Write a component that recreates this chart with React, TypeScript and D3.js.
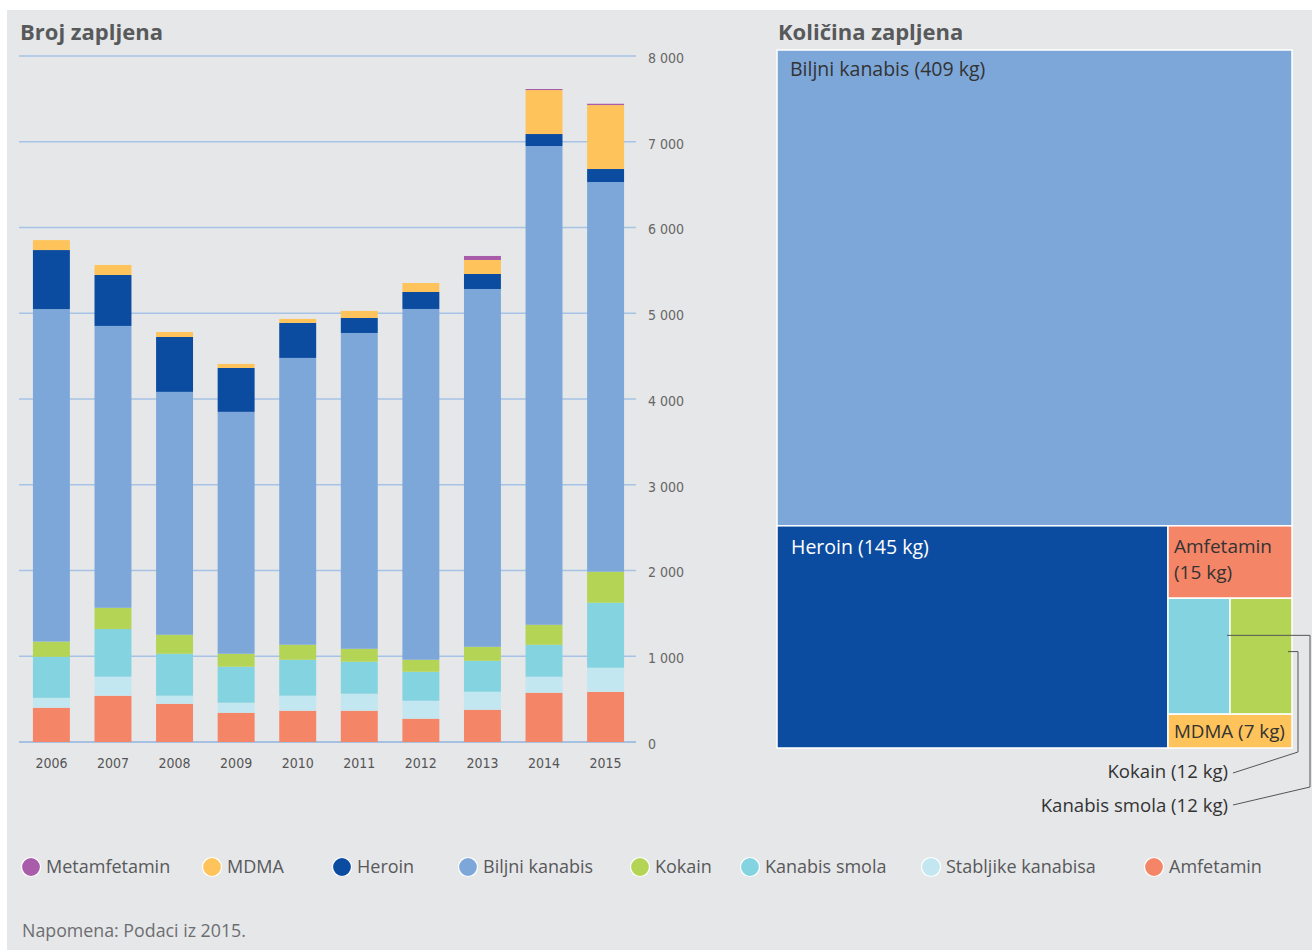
import React, { useEffect, useRef } from 'react';
import * as d3 from 'd3';

// Broj zapljena po godinama (očitano s grafikona)
const years = ['2006', '2007', '2008', '2009', '2010', '2011', '2012', '2013', '2014', '2015'];
const amfetamin = [400, 540, 446, 341, 365, 365, 272, 376, 575, 586];
const stabljike = [115, 221, 94, 117, 175, 198, 209, 210, 186, 280];
const smola = [478, 556, 489, 420, 419, 373, 338, 361, 373, 758];
const kokain = [178, 248, 221, 151, 175, 151, 140, 163, 233, 362];
const biljni = [3878, 3287, 2833, 2821, 3345, 3683, 4091, 4173, 5583, 4544];
const heroin = [688, 594, 640, 512, 408, 175, 198, 175, 140, 152];
const mdma = [116, 117, 58, 47, 47, 82, 105, 163, 513, 746];
const metamfetamin = [0, 0, 0, 0, 0, 0, 0, 47, 12, 15];

const yTicks = [0, 1000, 2000, 3000, 4000, 5000, 6000, 7000, 8000];

// Količina zapljena 2015. (kg)
const treeNames = ['Biljni kanabis', 'Heroin', 'Amfetamin', 'Kanabis smola', 'Kokain', 'MDMA'];
const treeKg = [409, 145, 15, 12, 12, 7];

const legendNames = ['Metamfetamin', 'MDMA', 'Heroin', 'Biljni kanabis', 'Kokain', 'Kanabis smola', 'Stabljike kanabisa', 'Amfetamin'];

const colors: Record<string, string> = {
  'Metamfetamin': '#a85ca9',
  'MDMA': '#fec35a',
  'Heroin': '#0b4ca0',
  'Biljni kanabis': '#7da7d9',
  'Kokain': '#b3d455',
  'Kanabis smola': '#84d3e0',
  'Stabljike kanabisa': '#c3e7f0',
  'Amfetamin': '#f58567',
};

const legendX = [31, 212, 342, 468, 640, 750, 931, 1154];

const SANS = "'Open Sans', Roboto, sans-serif";
const NARROW = "'Liberation Sans Narrow', 'DejaVu Sans Condensed', Roboto, sans-serif";

const App: React.FC = () => {
  const ref = useRef<SVGSVGElement>(null);

  useEffect(() => {
    if (!ref.current) return;
    const svg = d3.select(ref.current);
    svg.selectAll('*').remove();

    svg.append('rect')
      .attr('x', 7).attr('y', 10).attr('width', 1305).attr('height', 940)
      .attr('fill', '#e6e7e9');

    // ---- stacked bars ----
    const rows = years.map((year, i) => ({
      year,
      'Amfetamin': amfetamin[i],
      'Stabljike kanabisa': stabljike[i],
      'Kanabis smola': smola[i],
      'Kokain': kokain[i],
      'Biljni kanabis': biljni[i],
      'Heroin': heroin[i],
      'MDMA': mdma[i],
      'Metamfetamin': metamfetamin[i],
    }));
    const keys = ['Amfetamin', 'Stabljike kanabisa', 'Kanabis smola', 'Kokain', 'Biljni kanabis', 'Heroin', 'MDMA', 'Metamfetamin'];
    const series = d3.stack<any>().keys(keys)(rows);

    const x = d3.scaleBand().domain(years).range([20, 637]).paddingInner(0.4).paddingOuter(0.21);
    const y = d3.scaleLinear().domain([0, 8000]).range([742, 56]);

    const g = svg.append('g');

    g.selectAll('line.grid')
      .data(yTicks)
      .join('line')
      .attr('x1', 19).attr('x2', 636)
      .attr('y1', d => y(d)).attr('y2', d => y(d))
      .attr('stroke', d => (d === 0 ? '#8fb3de' : '#a6c3e5'))
      .attr('stroke-width', 1.5);

    g.selectAll('g.layer')
      .data(series)
      .join('g')
      .attr('fill', d => colors[d.key])
      .selectAll('rect')
      .data(d => d)
      .join('rect')
      .attr('x', d => x(d.data.year)!)
      .attr('width', x.bandwidth())
      .attr('y', d => y(d[1]))
      .attr('height', d => Math.max(0, y(d[0]) - y(d[1])));

    g.selectAll('text.ytick')
      .data(yTicks)
      .join('text')
      .attr('x', 648)
      .attr('y', d => y(d) + 2)
      .attr('dy', '0.35em')
      .text(d => d3.format(',')(d).replace(',', ' '))
      .style('font-family', NARROW)
      .style('font-size', '14px')
      .style('fill', '#666');

    g.selectAll('text.year')
      .data(years)
      .join('text')
      .attr('x', d => x(d)! + x.bandwidth() / 2)
      .attr('y', 763)
      .attr('dy', '0.35em')
      .attr('text-anchor', 'middle')
      .text(d => d)
      .style('font-family', NARROW)
      .style('font-size', '14px')
      .style('fill', '#555');

    svg.append('text')
      .attr('x', 20).attr('y', 40)
      .text('Broj zapljena')
      .style('font-family', SANS)
      .style('font-size', '22px')
      .style('font-weight', 'bold')
      .style('fill', '#58595b');

    // ---- treemap ----
    const leaf = (i: number) => ({ name: treeNames[i], value: treeKg[i] });
    const treeData = {
      name: 'root',
      children: [
        leaf(0),
        {
          name: 'g1',
          children: [
            leaf(1),
            { name: 'g2', children: [leaf(2), { name: 'g3', children: [leaf(3), leaf(4)] }, leaf(5)] },
          ],
        },
      ],
    };
    const root = d3.hierarchy<any>(treeData).sum(d => d.value || 0);
    d3.treemap<any>()
      .size([515, 698])
      .tile((node, x0, y0, x1, y1) => {
        if (node.depth % 2 === 0) d3.treemapSlice(node, x0, y0, x1, y1);
        else d3.treemapDice(node, x0, y0, x1, y1);
      })(root);

    const tm = svg.append('g').attr('transform', 'translate(777,50)');
    const leaves = root.leaves() as d3.HierarchyRectangularNode<any>[];
    tm.selectAll('rect')
      .data(leaves)
      .join('rect')
      .attr('x', d => d.x0).attr('y', d => d.y0)
      .attr('width', d => d.x1 - d.x0).attr('height', d => d.y1 - d.y0)
      .attr('fill', d => colors[d.data.name])
      .attr('stroke', '#fff')
      .attr('stroke-width', 1.5);

    const byName = (n: string) => leaves.find(l => l.data.name === n)!;
    const label = (tx: number, ty: number, s: string, fill = '#333', anchor = 'start', size = 19) =>
      tm.append('text')
        .attr('x', tx).attr('y', ty).attr('dy', '0.35em')
        .attr('text-anchor', anchor)
        .text(s)
        .style('font-family', SANS)
        .style('font-size', `${size}px`)
        .style('fill', fill);

    const b = byName('Biljni kanabis');
    label(b.x0 + 13, b.y0 + 19, `Biljni kanabis (${treeKg[0]} kg)`, '#333', 'start', 19.5);
    const h = byName('Heroin');
    label(h.x0 + 14, h.y0 + 21, `Heroin (${treeKg[1]} kg)`, '#fff', 'start', 19.5);
    const a = byName('Amfetamin');
    label(a.x0 + 6, a.y0 + 21, 'Amfetamin');
    label(a.x0 + 6, a.y0 + 47, `(${treeKg[2]} kg)`);
    const m = byName('MDMA');
    label(m.x0 + 6, (m.y0 + m.y1) / 2, `MDMA (${treeKg[5]} kg)`, '#333', 'start', 18.8);

    const ks = byName('Kanabis smola');
    const ko = byName('Kokain');
    label(451, 721, `Kokain  (${treeKg[4]} kg)`, '#333', 'end', 18.6);
    label(451, 755, `Kanabis smola (${treeKg[3]} kg)`, '#333', 'end', 18.6);

    const kokY = ko.y0 + (ko.y1 - ko.y0) * 0.46;
    tm.append('path')
      .attr('d', `M456,723 L521,702 L521,${kokY} L${ko.x1 - 4},${kokY}`)
      .attr('fill', 'none').attr('stroke', '#555').attr('stroke-width', 1);
    const smY = ks.y0 + (ks.y1 - ks.y0) * 0.32;
    tm.append('path')
      .attr('d', `M456,755 L533,737 L533,${smY} L${ks.x1 - 3},${smY}`)
      .attr('fill', 'none').attr('stroke', '#555').attr('stroke-width', 1);

    svg.append('text')
      .attr('x', 778).attr('y', 40)
      .text('Količina zapljena')
      .style('font-family', SANS)
      .style('font-size', '22px')
      .style('font-weight', 'bold')
      .style('fill', '#58595b');

    // ---- legend ----
    const lg = svg.append('g');
    legendNames.forEach((n, i) => {
      lg.append('circle')
        .attr('cx', legendX[i]).attr('cy', 867).attr('r', 9.5)
        .attr('fill', colors[n])
        .attr('stroke', '#fff').attr('stroke-width', 1.2);
      lg.append('text')
        .attr('x', legendX[i] + 15).attr('y', 867).attr('dy', '0.35em')
        .text(n)
        .style('font-family', SANS)
        .style('font-size', '18px')
        .style('fill', '#58595b');
    });

    svg.append('text')
      .attr('x', 22).attr('y', 931).attr('dy', '0.35em')
      .text('Napomena: Podaci iz 2015.')
      .style('font-family', SANS)
      .style('font-size', '17.8px')
      .style('fill', '#6d6e71');
  }, []);

  return (
    <div style={{ position: 'fixed', left: 0, top: 0, width: 1312, height: 950, background: '#fff' }}>
      <svg ref={ref} width={1312} height={950} style={{ display: 'block' }} />
    </div>
  );
};

export default App;
